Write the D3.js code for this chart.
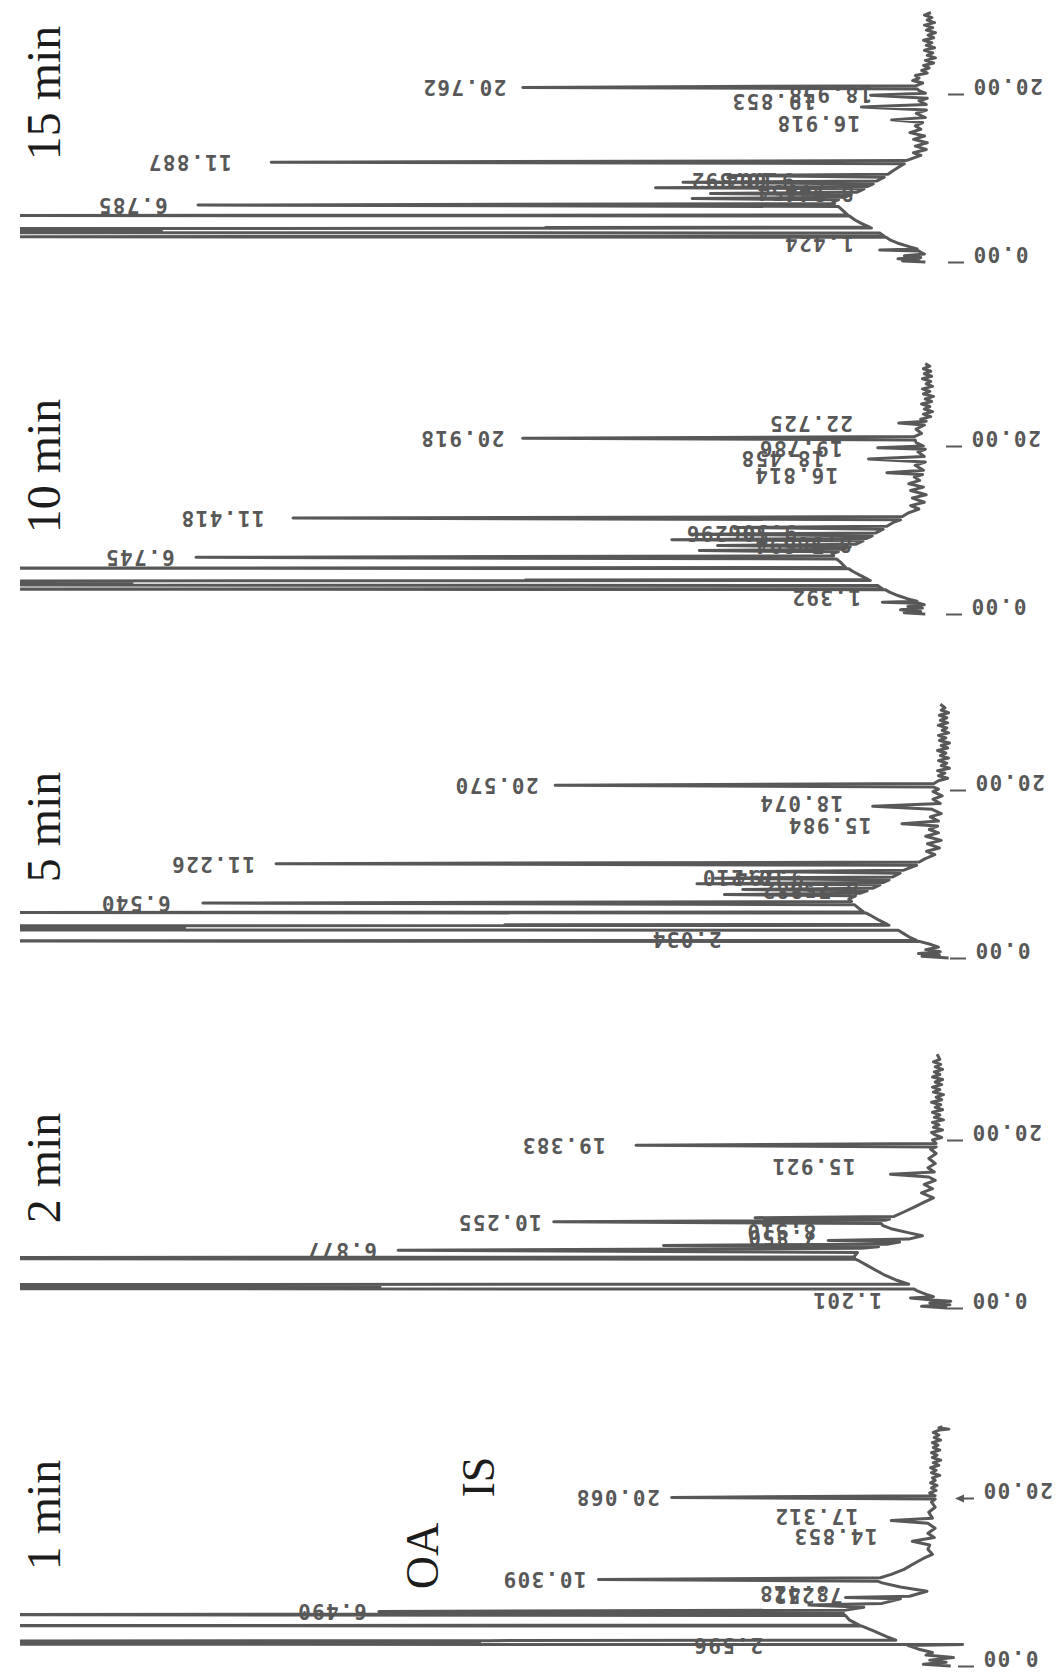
<!DOCTYPE html>
<html>
<head>
<meta charset="utf-8">
<script src="https://cdn.jsdelivr.net/npm/d3@7"></script>
<style>
  body { margin: 0; background: #fff; }
  svg { display: block; }
</style>
</head>
<body>
<svg id="chart" width="1063" height="1674"></svg>
<script>
// ---- data: one chromatogram per reaction time, [minutes, signal %] ----
var panels = ["15 min", "10 min", "5 min", "2 min", "1 min"];
var axisTicks = [0, 20];

var trace15 = [[0,0.5],[0.12,3],[0.25,1.2],[0.4,3.5],[0.55,1],[0.75,2.8],[0.95,0.6],[1.15,1],[1.3,1.2],[1.42,5.5],[1.55,1.4],
  [1.8,2.2],[2.2,3.4],[2.6,4.3],[2.95,4.8],[3,115],[3.06,5],[3.45,5.5],[3.5,115],[3.56,84],[3.62,115],[3.68,84],[3.74,115],
  [3.8,84],[3.86,115],[3.92,84],[3.98,115],[4.04,6.4],[4.1,42],[4.16,6.6],[4.6,7.5],[5,8.2],[5.48,8.8],[5.53,115],[5.6,9],
  [6.2,9.6],[6.6,10],[6.785,80],[6.95,10.4],
  [7.2,10.6],[7.4,10],[7.55,26],[7.7,9.4],[8,8.6],[8.15,24],[8.3,8],[8.7,7.2],[8.85,30],[9,6.8],[9.3,6.2],[9.5,27],
  [9.65,5.8],[10.1,5],[10.3,22],[10.45,4.6],[10.9,4],[11.3,3.4],[11.7,2.8],[11.887,72],[12.07,2.6],[12.3,2],[12.7,1],[13,1.8],
  [13.4,0.4],[13.8,1.6],[14.2,0.3],[14.6,1.8],[15,0.6],[15.4,2.2],[15.8,1],[16.2,1.6],[16.6,0.8],[16.92,4.2],[17.2,0.5],
  [17.7,1.5],[18.1,0.4],[18.45,7.5],[18.75,0.4],[19.2,1.2],[19.5,0.3],[19.85,6.5],[20.1,0.5],[20.4,1.2],[20.6,1.4],
  [20.788,44.5],[20.99,1.5],[21.3,0.8],[21.6,1.9],[21.9,1.2],[22.2,1.6],[22.5,0.3],[22.8,0.9],[23.1,0.1],[23.4,0.7],
  [23.7,-0.4],[24,0.5],[24.3,-0.6],[24.6,0.3],[24.9,-0.3],[25.2,0.6],[25.5,-0.5],[25.8,0.4],[26.1,-0.2],[26.4,0.7],
  [26.7,-0.4],[27,0.2],[27.3,-0.6],[27.6,0.4],[27.9,-0.3],[28.2,0.6],[28.5,-0.5],[28.8,0.3],[29.1,-0.2],[29.4,0.6],[29.7,-0.1]];

var trace10 = [[0,0.3],[0.15,2.6],[0.3,0.8],[0.5,3],[0.7,0.6],[0.9,2.2],[1.1,0.4],[1.28,1],[1.39,5],[1.52,1.2],
  [1.8,2.2],[2.2,3.3],[2.6,4.2],[2.9,4.7],[2.96,115],[3.02,5],[3.4,5.5],[3.45,115],[3.51,87],[3.57,115],[3.63,87],[3.69,115],
  [3.75,87],[3.81,115],[3.87,87],[3.93,115],[3.99,6.3],[4.05,44],[4.11,6.5],[4.6,7.4],[5,8.1],[5.4,8.7],[5.46,115],[5.53,9],
  [6.2,9.6],[6.55,10],[6.745,80],[6.93,10.3],
  [7.2,10.5],[7.4,9.8],[7.55,25],[7.7,9.3],[8,8.5],[8.15,23],[8.3,7.9],[8.7,7.1],[8.85,28],[9,6.7],[9.3,6.1],[9.5,26],
  [9.65,5.7],[10.1,4.9],[10.3,21],[10.45,4.5],[10.9,3.8],[11.22,3],[11.418,69.4],[11.6,2.8],[12,2.2],[12.5,1],[12.9,1.9],
  [13.3,0.4],[13.8,1.7],[14.2,0.2],[14.7,1.9],[15.1,0.5],[15.5,2.1],[15.9,0.9],[16.3,1.5],[16.6,0.6],[16.81,4.5],[17.1,0.5],
  [17.7,1.4],[18.1,0.3],[18.46,6.5],[18.75,0.4],[19.3,1.1],[19.6,0.3],[19.79,5.5],[20,0.5],[20.4,1.3],[20.72,1.4],
  [20.918,44.3],[21.12,1.5],[21.5,0.7],[22,1.3],[22.5,0.4],[22.73,3.2],[22.95,0.2],[23.2,0.8],[23.5,-0.3],[23.8,0.5],
  [24.1,-0.5],[24.4,0.4],[24.7,-0.2],[25,0.7],[25.3,-0.4],[25.6,0.3],[25.9,-0.6],[26.2,0.5],[26.5,-0.2],[26.8,0.6],
  [27.1,-0.5],[27.4,0.2],[27.7,-0.3],[28,0.6],[28.3,-0.4],[28.6,0.4],[28.9,-0.3],[29.2,0.5],[29.5,-0.2],[29.8,0.3]];

var trace5 = [[0,-0.5],[0.2,2.4],[0.35,0.5],[0.55,2.8],[0.75,0.4],[1,2],[1.3,0.6],[1.6,1.4],[1.95,2.6],[2.03,115],[2.1,3],
  [2.5,3.8],[2.9,4.4],[3.3,5],[3.35,115],[3.41,83],[3.47,115],[3.53,83],[3.59,115],[3.65,83],[3.71,115],[3.77,83],
  [3.83,115],[3.89,6],[3.95,48],[4.01,6.2],[4.5,7.1],[5,7.9],[5.35,8.5],[5.41,115],[5.48,8.8],[6,9.4],[6.35,9.8],[6.54,81],
  [6.73,10.1],[7,10.4],[7.4,9.7],
  [7.55,24],[7.7,9.2],[8,8.4],[8.15,22],[8.3,7.8],[8.7,7],[8.85,27],[9,6.6],[9.3,6],[9.5,25],[9.65,5.6],[10.1,4.8],
  [10.3,20],[10.45,4.4],[10.8,3.6],[11.03,3],[11.226,73],[11.42,2.7],[11.8,2.1],[12.3,1],[12.7,1.9],[13.1,0.5],[13.6,1.8],
  [14,0.3],[14.5,2],[14.9,0.6],[15.3,1.6],[15.7,0.7],[15.98,4.6],[16.3,0.6],[16.8,1.5],[17.2,0.3],[17.7,1.3],[18.07,7.8],
  [18.4,0.4],[18.9,1.2],[19.3,0.2],[19.8,1.2],[20.1,0.6],[20.37,1.2],[20.57,42.5],[20.77,1.1],[21.1,0.6],[21.4,-0.4],
  [21.7,0.6],[22,-0.1],[22.3,0.7],[22.6,-0.6],[22.9,0.3],[23.2,-0.3],[23.5,0.6],[23.8,-0.5],[24.1,0.4],[24.4,-0.2],
  [24.7,0.7],[25,-0.4],[25.3,0.3],[25.6,-0.6],[25.9,0.5],[26.2,-0.2],[26.5,0.6],[26.8,-0.5],[27.1,0.2],[27.4,-0.3],
  [27.7,0.6],[28,-0.4],[28.3,0.4],[28.6,-0.3],[28.9,0.5],[29.2,-0.5],[29.5,0.3],[29.8,-0.1],[30.2,0.4]];

var trace2 = [[0,-1],[0.2,1.8],[0.4,-1.3],[0.6,0.9],[0.8,-1.4],[0.95,0.6],[1.2,3],[1.35,0.5],[1.6,1.2],[2,2.2],[2.25,2.6],
  [2.3,115],[2.36,61],[2.42,115],[2.48,61],[2.54,115],[2.6,61],[2.66,115],[2.72,61],[2.78,115],[2.84,3.2],
  [3.3,4.5],[3.9,5.8],[4.5,6.8],[5.1,7.8],[5.6,8.6],[5.8,9],[5.86,115],[5.93,9.1],[6,115],
  [6.08,9.2],[6.6,8.8],[6.877,59],[7.1,8.4],[7.3,6.5],[7.45,30],[7.6,5.6],[7.85,4.2],[8.05,12],[8.2,3.2],[8.6,1.7],
  [9,3.4],[9.4,5],[9.8,6],[10.05,6.2],[10.255,42],[10.45,5.8],[10.6,5.3],[10.75,20],[10.9,4.8],[11.4,3.8],[12,2.6],
  [12.6,1.5],[13.1,0.5],[13.7,1.8],[14.2,0.6],[14.7,1.5],[15.2,0.3],[15.6,1],[15.92,5.2],[16.2,0.4],[16.7,1.1],[17.2,0.3],
  [17.8,1],[18.4,0.2],[18.9,0.8],[19.18,0.2],[19.383,33],[19.58,0.2],[20,0.6],[20.3,-0.4],[20.6,0.3],[20.9,0.7],
  [21.2,-0.5],[21.5,0.5],[21.8,-0.1],[22.1,0.6],[22.4,-0.6],[22.7,0.4],[23,-0.2],[23.3,0.6],[23.6,-0.5],[23.9,0.3],
  [24.2,-0.3],[24.5,0.7],[24.8,-0.4],[25.1,0.2],[25.4,-0.6],[25.7,0.5],[26,-0.2],[26.3,0.6],[26.6,-0.4],[26.9,0.3],
  [27.2,-0.5],[27.5,0.6],[27.8,-0.2],[28.1,0.4],[28.4,-0.5],[28.7,0.3],[29,-0.3],[29.3,0.5],[29.6,-0.2],[30.2,0.1]];

var trace1 = [[0,-1.5],[0.2,1.5],[0.45,-1],[0.7,0.8],[1,-1.8],[1.3,1.2],[1.6,0.5],[2,2],[2.45,3.2],[2.55,-2.8],[2.6,115],
  [2.66,50],[2.72,115],[2.78,50],[2.84,115],[2.9,50],[2.96,115],[3.02,49],[3.08,4.5],[3.5,5.5],[4.2,7],[4.75,8.2],
  [4.8,115],[4.87,8.5],[5.5,9.6],[6,10],
  [6.12,115],[6.22,10.2],[6.35,10.3],[6.49,61],[6.65,10],[7,8],[7.25,14],[7.45,6],[8,4],[8.15,10],[8.3,3],[8.9,1.1],
  [9.4,4],[9.9,6],[10.1,6.5],[10.309,37],[10.5,6.2],[10.9,5],[11.5,3.6],[12.2,2.5],[12.8,1.5],[13.3,0.5],[13.9,1],
  [14.4,0.8],[14.85,2.7],[15.3,0.3],[15.8,1],[16.4,0.2],[17,1],[17.31,5],[17.6,0.5],[18.3,0.9],[18.9,0.2],[19.5,0.6],
  [19.87,0.2],[20.068,29],[20.27,0.2],[20.6,0.8],[20.9,0.1],[21.2,0.6],[21.5,0],[21.8,0.7],[22.1,0.2],[22.4,0.5],
  [22.7,-0.3],[23,0.6],[23.3,0.1],[23.6,0.7],[23.9,-0.2],[24.2,0.4],[24.5,-0.4],[24.8,0.5],[25.1,0],[25.4,0.6],
  [25.7,-0.3],[26,0.4],[26.3,-0.1],[26.6,0.5],[26.9,-0.4],[27.2,0.3],[27.5,-0.2],[27.8,0.4],[28.1,-0.3],[28.2,-1.3],
  [28.35,-0.2],[28.5,-0.6]];

// peak labels: [minutes, text, signal where the label ends]
var labels15 = [[2.3,"1.424",7],[6.785,"6.785",82],[11.887,"11.887",75],[8.3,"7.754",10],[8.25,"8.344",7],
  [9.8,"9.604",13.5],[9.75,"10.392",15.7],[16.6,"16.918",6.3],[19.2,"19.853",11.2],[19.95,"18.958",5],[20.788,"20.762",45]];
var labels10 = [[2,"1.392",6],[6.745,"6.745",81],[11.418,"11.418",71.2],[8.25,"7.694",10],[8.3,"8.385",7],
  [9.8,"9.506",13],[9.7,"10.296",16],[16.5,"16.814",8.5],[18.6,"18.458",10],[19.8,"19.786",8],[20.918,"20.918",45],
  [22.725,"22.725",6.9]];
var labels5 = [[2.3,"2.034",23],[6.54,"6.540",83.2],[11.226,"11.226",74],[8.15,"7.882",11],[8.2,"8.258",8],
  [9.7,"9.794",14],[9.65,"10.210",16],[15.8,"15.984",6.6],[18.4,"18.074",9.7],[20.57,"20.570",43]];
var labels2 = [[0.95,"1.201",4.8],[6.877,"6.877",60],[8.45,"7.850",11.9],[9.2,"8.510",12],[10.255,"10.255",42],
  [16.9,"15.921",7.7],[19.383,"19.383",35]];
var labels1 = [[2.5,"2.596",17.7],[6.49,"6.490",61],[8.45,"7.252",9],[8.75,"8.418",10.5],[10.309,"10.309",37],
  [15.5,"14.853",5.2],[17.9,"17.312",7.3],[20.068,"20.068",29]];

var peakNames = [["OA", 10.309], ["IS", 20.068]];

var traces = [trace15, trace10, trace5, trace2, trace1];
var labels = [labels15, labels10, labels5, labels2, labels1];

// ---- layout ----
var zeroY = [262, 614, 958, 1308, 1666];
var baseX = [930, 928, 944, 938, 937];
var tickX = [948, 946, 950, 947, 958];
var titleY = [93, 466, 827, 1168, 1515];
var nameX = [438, 494], nameY = [1556, 1477];

var svg = d3.select("#chart");
svg.append("rect").attr("width", 1063).attr("height", 1674).attr("fill", "#fff");
svg.append("clipPath").attr("id", "plotclip")
  .append("rect").attr("x", 20).attr("y", 0).attr("width", 1043).attr("height", 1674);

var ink = "#585858";
var mono = "'DejaVu Sans Mono', monospace";

panels.forEach(function(name, i) {
  var y = d3.scaleLinear().domain([0, 30]).range([zeroY[i], zeroY[i] - 30 * 8.4]);
  var x = d3.scaleLinear().domain([0, 100]).range([baseX[i], baseX[i] - 915]);
  var g = svg.append("g").attr("class", "panel");

  var line = d3.line()
      .x(function(d) { return x(d[1]); })
      .y(function(d) { return y(d[0]); });

  g.append("path")
      .datum(traces[i])
      .attr("clip-path", "url(#plotclip)")
      .attr("d", line)
      .attr("fill", "none")
      .attr("stroke", ink)
      .attr("stroke-width", 3)
      .attr("stroke-linejoin", "round");

  // time axis ticks, printed upside down like the recorder output
  var axis = g.append("g")
      .attr("transform", "translate(" + tickX[i] + ",0)")
      .call(d3.axisRight(y).tickValues(axisTicks).tickSize(16).tickFormat(d3.format(".2f")));
  axis.select(".domain").remove();
  axis.selectAll(".tick line").attr("stroke", ink).attr("stroke-width", 2);
  axis.selectAll(".tick text")
      .attr("x", null).attr("dy", null)
      .attr("transform", "translate(24,-9) rotate(180)")
      .attr("text-anchor", "end")
      .attr("dominant-baseline", "central")
      .attr("font-family", mono)
      .attr("font-weight", "bold")
      .attr("font-size", 21)
      .attr("letter-spacing", 1.5)
      .attr("fill", ink);
  if (i === panels.length - 1) {
    axis.selectAll(".tick").filter(function(d) { return d === 20; })
      .append("path")
        .attr("d", "M-3,0L6,-4L6,4Z")
        .attr("fill", ink);
  }

  g.selectAll("text.peak")
    .data(labels[i])
    .join("text")
      .attr("class", "peak")
      .attr("transform", function(d) {
        return "translate(" + (x(d[2]) - 12) + "," + y(d[0]) + ") rotate(180)";
      })
      .attr("text-anchor", "start")
      .attr("dominant-baseline", "central")
      .attr("font-family", mono)
      .attr("font-weight", "bold")
      .attr("font-size", 21)
      .attr("letter-spacing", 1.4)
      .attr("fill", ink)
      .text(function(d) { return d[1]; });

  svg.append("text")
      .attr("transform", "translate(60," + titleY[i] + ") rotate(-90)")
      .attr("text-anchor", "middle")
      .attr("font-family", "'Liberation Serif', serif")
      .attr("font-size", 48)
      .attr("fill", "#1c1c1c")
      .text(name);
});

svg.selectAll("text.name")
  .data(peakNames)
  .join("text")
    .attr("class", "name")
    .attr("transform", function(d, j) { return "translate(" + nameX[j] + "," + nameY[j] + ") rotate(-90)"; })
    .attr("text-anchor", "middle")
    .attr("font-family", "'Liberation Serif', serif")
    .attr("font-size", 46)
    .attr("fill", "#1c1c1c")
    .text(function(d) { return d[0]; });
</script>
</body>
</html>
